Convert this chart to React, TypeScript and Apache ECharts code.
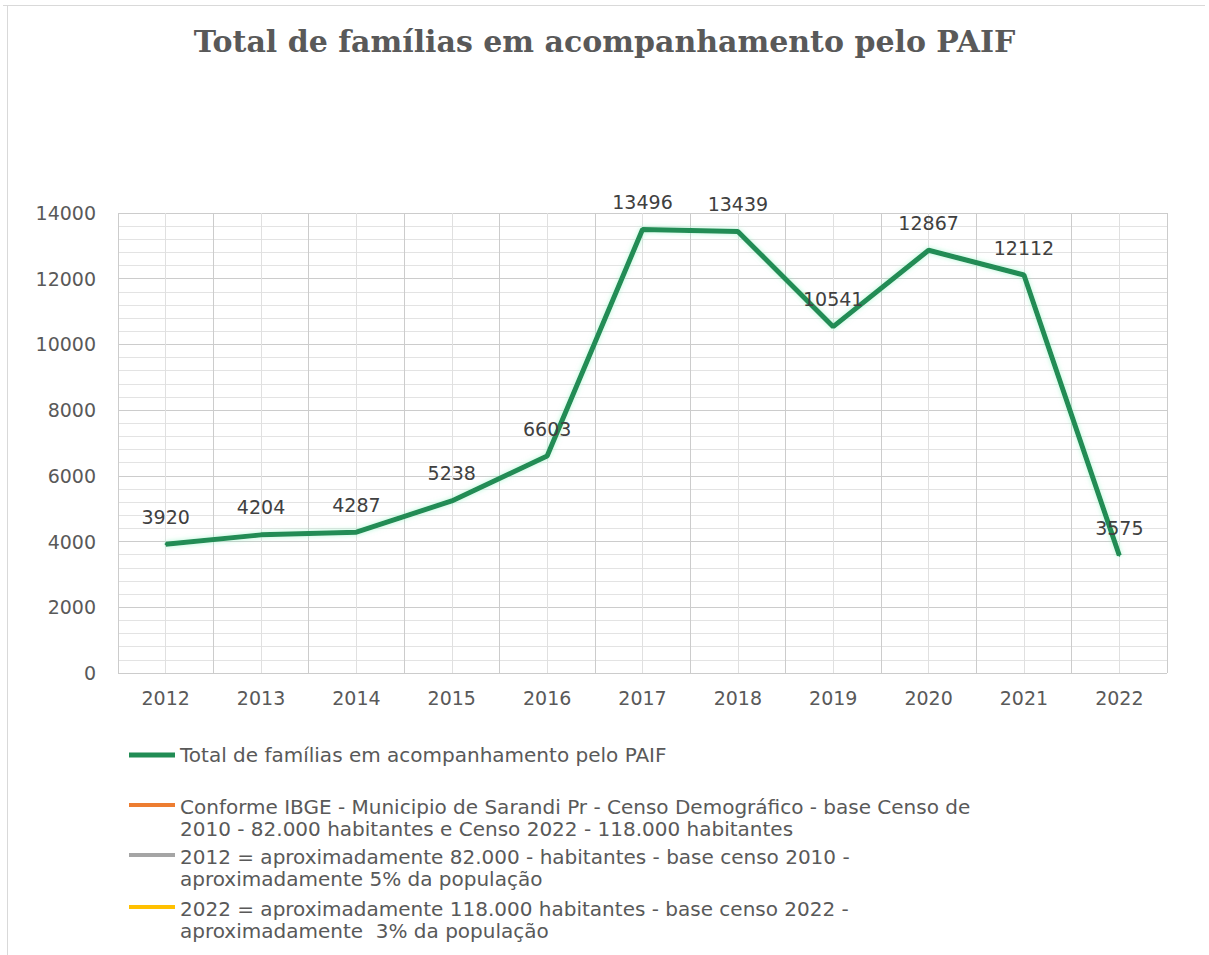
import React, { useEffect, useRef } from "react";
import * as echarts from "echarts";

const TITLE = "Total de famílias em acompanhamento pelo PAIF";
const years = ["2012", "2013", "2014", "2015", "2016", "2017", "2018", "2019", "2020", "2021", "2022"];
const totals = [3920, 4204, 4287, 5238, 6603, 13496, 13439, 10541, 12867, 12112, 3575];
const mainName = "Total de famílias em acompanhamento pelo PAIF";
const noteNames = [
  "Conforme IBGE - Municipio de Sarandi Pr - Censo Demográfico - base Censo de\n2010 - 82.000 habitantes e Censo 2022 - 118.000 habitantes",
  "2012 = aproximadamente 82.000 - habitantes - base censo 2010 -\naproximadamente 5% da população",
  "2022 = aproximadamente 118.000 habitantes - base censo 2022 -\naproximadamente  3% da população",
];
const noteColors = ["#ED7D31", "#A5A5A5", "#FFC000"];
const mainColor = "#218c54";
const legendTops = [743, 769, 819, 871];

export default function App() {
  const ref = useRef<HTMLDivElement>(null);
  useEffect(() => {
    if (!ref.current) return;
    const chart = echarts.init(ref.current, null, { renderer: "svg" });
    const sans = "DejaVu Sans";
    const txt = { fontFamily: sans, fontSize: 20, lineHeight: 24, color: "#595959" };
    const legendBase = {
      orient: "vertical",
      left: 129,
      padding: 0,
      itemWidth: 46,
      itemHeight: 4,
      icon: "rect",
      selectedMode: false,
    };
    const legends: any[] = [
      { ...legendBase, top: legendTops[0], data: [mainName], itemHeight: 5, textStyle: txt },
      ...noteNames.map((n, i) => ({
        ...legendBase,
        top: legendTops[i + 1],
        data: [n],
        formatter: (name: string) => {
          const parts = name.split("\n");
          return `{a|${parts[0]}}\n{b|${parts[1]}}`;
        },
        textStyle: {
          ...txt,
          rich: {
            a: { ...txt, lineHeight: 48, verticalAlign: "bottom" },
            b: { ...txt },
          },
        },
      })),
    ];
    chart.setOption({
      animation: false,
      backgroundColor: "#ffffff",
      title: {
        text: TITLE,
        left: "center",
        top: 21,
        textStyle: { fontFamily: "DejaVu Serif", fontWeight: "bold", fontSize: 30, color: "#595959" },
      },
      legend: legends,
      grid: { left: 118, right: 42, top: 213, bottom: 282 },
      xAxis: [
        {
          type: "category",
          data: years,
          boundaryGap: true,
          axisLine: { show: false },
          axisTick: { show: false },
          splitLine: { show: false },
          axisLabel: { fontFamily: sans, fontSize: 19, color: "#595959", margin: 15 },
        },
        {
          type: "value",
          min: 0,
          max: 11,
          interval: 1,
          position: "bottom",
          axisLine: { show: false },
          axisTick: { show: false },
          axisLabel: { show: false },
          splitLine: { show: true, lineStyle: { color: "#cccccc", width: 1 } },
          minorTick: { show: false, splitNumber: 2 },
          minorSplitLine: { show: true, lineStyle: { color: "#e0e0e0", width: 1 } },
        },
      ],
      yAxis: {
        type: "value",
        min: 0,
        max: 14000,
        interval: 2000,
        axisLine: { show: false },
        axisTick: { show: false },
        axisLabel: {
          fontFamily: sans,
          fontSize: 19,
          color: "#595959",
          margin: 22,
          formatter: (v: number) => String(v),
        },
        splitLine: { show: true, lineStyle: { color: "#cccccc", width: 1 } },
        minorTick: { show: false, splitNumber: 5 },
        minorSplitLine: { show: true, lineStyle: { color: "#e3e3e3", width: 1 } },
      },
      graphic: [
        { type: "line", shape: { x1: 3, y1: 5.5, x2: 1205, y2: 5.5 }, style: { stroke: "#d9d9d9", lineWidth: 1 } },
        { type: "line", shape: { x1: 7.5, y1: 5, x2: 7.5, y2: 955 }, style: { stroke: "#d9d9d9", lineWidth: 1 } },
      ],
      series: [
        {
          name: mainName,
          type: "line",
          xAxisIndex: 0,
          yAxisIndex: 0,
          data: totals,
          symbol: "circle",
          symbolSize: 2,
          showSymbol: true,
          color: mainColor,
          itemStyle: { color: mainColor },
          lineStyle: {
            color: mainColor,
            width: 5,
            shadowColor: "rgba(120,240,180,0.55)",
            shadowBlur: 5,
          },
          label: {
            show: true,
            position: "top",
            distance: 17,
            fontFamily: sans,
            fontSize: 19,
            color: "#404040",
            formatter: (p: any) => String(p.value),
          },
        },
        ...noteNames.map((n, i) => ({
          name: n,
          type: "line",
          xAxisIndex: 0,
          yAxisIndex: 0,
          data: [],
          symbol: "none",
          color: noteColors[i],
          lineStyle: { color: noteColors[i], width: 4 },
        })),
      ],
    });
    return () => chart.dispose();
  }, []);
  return (
    <div
      ref={ref}
      style={{ position: "fixed", left: 0, top: 0, width: 1209, height: 955, background: "#fff" }}
    />
  );
}
